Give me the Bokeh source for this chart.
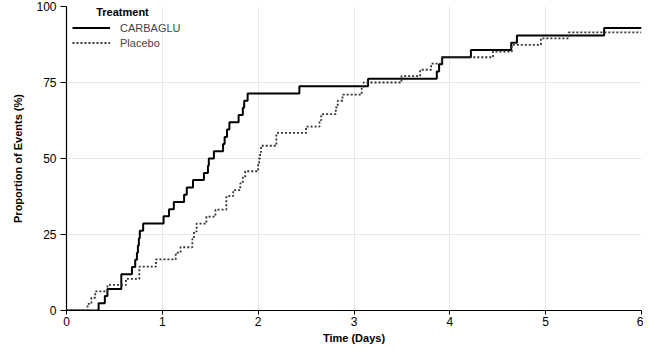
from bokeh.plotting import figure
from bokeh.models import Legend, LegendItem, Label, FixedTicker, Range1d
from bokeh.embed import file_html
from bokeh.resources import INLINE

# Cumulative proportion of events (%) at each event time (days)
time_carbaglu = [0, 0.335, 0.40, 0.427, 0.572, 0.683, 0.717, 0.735, 0.745, 0.755,
                 0.765, 0.80, 1.013, 1.07, 1.12, 1.227, 1.255, 1.32, 1.434, 1.476,
                 1.485, 1.538, 1.634, 1.65, 1.675, 1.70, 1.796, 1.84, 1.854, 1.89,
                 2.43, 3.147, 3.864, 3.888, 3.92, 4.22, 4.64, 4.70, 5.61, 6.0]
pct_carbaglu = [0, 2.4, 4.8, 7.1, 11.9, 14.3, 16.7, 19.0, 21.4, 23.8,
                26.2, 28.6, 31.0, 33.3, 35.7, 38.1, 40.5, 42.9, 45.2, 47.6,
                50.0, 52.4, 54.8, 57.1, 59.5, 61.9, 64.3, 66.7, 69.0, 71.4,
                73.8, 76.2, 78.6, 81.0, 83.3, 85.7, 88.1, 90.5, 92.9, 92.9]

time_placebo = [0, 0.22, 0.26, 0.30, 0.427, 0.62, 0.76, 0.934, 1.14, 1.19,
                1.313, 1.33, 1.358, 1.46, 1.554, 1.668, 1.74, 1.813, 1.84, 1.865,
                2.00, 2.01, 2.02, 2.03, 2.19, 2.50, 2.64, 2.658, 2.81, 2.83,
                2.88, 3.08, 3.10, 3.495, 3.69, 3.805, 3.916, 4.45, 4.647, 4.95,
                5.24, 6.0]
pct_placebo = [0, 2.2, 4.2, 6.3, 8.4, 10.4, 14.4, 16.8, 19.0, 20.8,
               23.5, 26.0, 28.6, 30.9, 33.2, 37.6, 39.6, 41.8, 43.8, 45.8,
               48.0, 50.0, 52.1, 54.2, 58.4, 60.5, 62.6, 64.6, 66.8, 69.0,
               71.0, 73.0, 75.0, 77.1, 79.2, 81.2, 83.3, 85.2, 87.4, 89.5,
               91.5, 91.5]

x_ticks = [0, 1, 2, 3, 4, 5, 6]
y_ticks = [0, 25, 50, 75, 100]
series_names = ["CARBAGLU", "Placebo"]
legend_title = "Treatment"

FONT = "Liberation Sans"

p = figure(width=643, height=346, output_backend="svg", toolbar_location=None,
           x_range=Range1d(0, 6), y_range=Range1d(0, 100),
           min_border_left=66, min_border_right=2, min_border_top=6,
           min_border_bottom=0)
p.outline_line_color = None
p.background_fill_color = "white"
p.border_fill_color = "white"

r1 = p.step(time_carbaglu, pct_carbaglu, mode="after", line_color="black",
            line_width=2)
r2 = p.step(time_placebo, pct_placebo, mode="after", line_color="#333333",
            line_width=1.8, line_dash="2 2")

for ax in (p.xaxis[0], p.yaxis[0]):
    ax.axis_line_color = "black"
    ax.axis_line_width = 1.2
    ax.major_tick_line_color = "black"
    ax.major_tick_in = 0
    ax.minor_tick_line_color = None
    ax.major_label_text_font = FONT
    ax.major_label_text_font_size = "12px"
    ax.major_label_text_color = "black"
    ax.axis_label_text_font = FONT
    ax.axis_label_text_font_size = "11px"
    ax.axis_label_text_font_style = "bold"
    ax.axis_label_text_color = "black"

p.xaxis.ticker = FixedTicker(ticks=x_ticks)
p.yaxis.ticker = FixedTicker(ticks=y_ticks)
p.xaxis.axis_label = "Time (Days)"
p.yaxis.axis_label = "Proportion of Events (%)"
p.xaxis.major_tick_out = 4
p.yaxis.major_tick_out = 6
p.xaxis.major_label_standoff = 2
p.yaxis.major_label_standoff = 4
p.xaxis.axis_label_standoff = 3
p.yaxis.axis_label_standoff = 9

p.xgrid.ticker = FixedTicker(ticks=x_ticks)
p.ygrid.ticker = FixedTicker(ticks=y_ticks)
p.grid.grid_line_color = "#e6e6e6"
p.grid.grid_line_width = 1

legend = Legend(items=[LegendItem(label=series_names[0], renderers=[r1]),
                       LegendItem(label=series_names[1], renderers=[r2])],
                location=(6, 261), margin=0, padding=0, spacing=2,
                label_height=13, glyph_height=13, glyph_width=38,
                label_standoff=10, label_text_font=FONT,
                label_text_font_size="11px", border_line_color=None,
                background_fill_alpha=0)
p.add_layout(legend)

title = Label(x=56, y=299, x_units="screen", y_units="screen", text=legend_title,
              text_font=FONT, text_font_size="11px", text_font_style="bold",
              text_align="center", text_baseline="middle", text_color="black")
p.add_layout(title)

open("out.html", "w").write(file_html(p, INLINE))
